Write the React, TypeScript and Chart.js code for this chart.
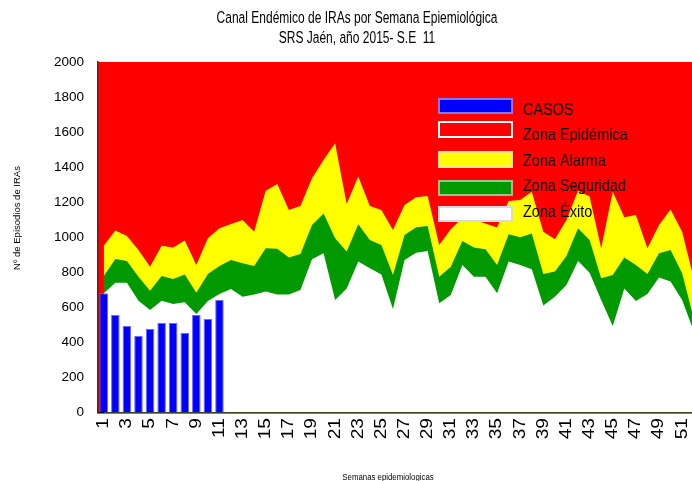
import React, { useEffect, useRef } from "react";
import { Chart, registerables } from "chart.js";

Chart.register(...registerables);

// ---------- DATA ----------
const weeks = [
  "1","2","3","4","5","6","7","8","9","10","11","12","13","14","15","16","17","18","19","20",
  "21","22","23","24","25","26","27","28","29","30","31","32","33","34","35","36","37","38","39","40",
  "41","42","43","44","45","46","47","48","49","50","51","52",
];

// Casos observados (semanas 1 a 11)
const casos = [680, 556, 494, 438, 476, 511, 511, 454, 556, 534, 642];

// Límite superior de Zona Alarma (inicio Zona Epidémica)
const limiteAlarma = [
  952, 1038, 1007, 927, 832, 952, 941, 982, 842, 994,
  1051, 1076, 1098, 1032, 1266, 1304, 1156, 1178, 1336, 1441,
  1536, 1190, 1346, 1178, 1156, 1041, 1184, 1228, 1235, 956,
  1045, 1110, 1100, 1079, 1055, 1207, 1213, 1260, 1032, 988,
  1098, 1266, 1232, 937, 1260, 1114, 1127, 937, 1070, 1159,
  1032, 766,
];

// Límite superior de Zona Seguridad
const limiteSeguridad = [
  779, 876, 864, 775, 695, 779, 762, 787, 684, 790,
  836, 870, 851, 836, 937, 935, 884, 904, 1070, 1136,
  994, 918, 1074, 984, 956, 785, 1013, 1057, 1064, 775,
  832, 979, 942, 931, 842, 1017, 1000, 1022, 790, 804,
  893, 1051, 984, 766, 785, 884, 842, 790, 908, 927,
  794, 537,
];

// Límite superior de Zona Éxito
const limiteExito = [
  680, 741, 741, 638, 585, 638, 619, 629, 562, 636,
  676, 705, 661, 674, 691, 674, 674, 699, 874, 908,
  642, 707, 861, 823, 788, 591, 870, 912, 922, 623,
  670, 842, 775, 775, 680, 861, 842, 817, 610, 661,
  727, 864, 798, 642, 494, 707, 636, 676, 771, 747,
  642, 463,
];

const yTicksMax = 2000;
const yTicksStep = 200;

const titleLines = [
  "Canal Endémico de IRAs por Semana Epiemiológica",
  "SRS Jaén, año 2015- S.E  11",
];
const yAxisTitle = "Nº de Episodios de IRAs";
const xAxisTitle = "Semanas epidemiologicas";

const legendLabels = ["CASOS", "Zona Epidémica", "Zona Alarma", "Zona Seguridad", "Zona Éxito"];

// ---------- STYLE ----------
const FONT = "'Liberation Sans', Arial, sans-serif";
const RED = "#FF0000";
const YELLOW = "#FFFF00";
const GREEN = "#009900";
const BLUE = "#0000FF";

const legendStyles = [
  { fill: BLUE, stroke: "#7b7bff", top: 99, h: 14, ty: 111 },
  { fill: RED, stroke: "#FFFFFF", top: 122, h: 15, ty: 135.5 },
  { fill: YELLOW, stroke: "#f3ea8a", top: 152, h: 15, ty: 161.5 },
  { fill: GREEN, stroke: "#8cc88c", top: 181, h: 14, ty: 186.5 },
  { fill: "#FFFFFF", stroke: "#d8d8e0", top: 207, h: 14, ty: 212.5 },
];

const decorPlugin = {
  id: "decor",
  beforeDraw(chart: any) {
    const { ctx, chartArea: a } = chart;
    ctx.save();
    ctx.fillStyle = RED;
    ctx.fillRect(a.left, a.top, a.right - a.left, a.bottom - a.top);
    ctx.restore();
  },
  afterDraw(chart: any) {
    const { ctx, chartArea: a } = chart;
    const xs = chart.scales.x;
    ctx.save();
    ctx.fillStyle = "#000";

    // title (condensed)
    ctx.textAlign = "center";
    ctx.textBaseline = "middle";
    ctx.font = `15px ${FONT}`;
    titleLines.forEach((t, i) => {
      ctx.save();
      ctx.translate(357, 19 + i * 20);
      ctx.scale(0.8, 1.05);
      ctx.fillText(t, 0, 0);
      ctx.restore();
    });

    // x tick labels (rotated, vertically stretched)
    ctx.font = `16px ${FONT}`;
    ctx.textAlign = "right";
    ctx.textBaseline = "middle";
    weeks.forEach((w, i) => {
      if (i % 2 !== 0) return;
      const x = xs.getPixelForValue(i);
      ctx.save();
      ctx.translate(x, a.bottom + 5.5);
      ctx.rotate(-Math.PI / 2);
      ctx.scale(1.2, 1);
      ctx.fillText(w, 0, 0);
      ctx.restore();
    });

    // y axis title
    ctx.textAlign = "center";
    ctx.save();
    ctx.translate(17, 218);
    ctx.rotate(-Math.PI / 2);
    ctx.font = `9.5px ${FONT}`;
    ctx.fillText(yAxisTitle, 0, 0);
    ctx.restore();

    // x axis title
    ctx.save();
    ctx.translate(388, 477);
    ctx.scale(0.92, 1.1);
    ctx.font = `8.5px ${FONT}`;
    ctx.fillText(xAxisTitle, 0, 0);
    ctx.restore();

    // legend
    ctx.textAlign = "left";
    ctx.font = `14.5px ${FONT}`;
    legendLabels.forEach((lab, i) => {
      const s = legendStyles[i];
      ctx.fillStyle = s.fill;
      ctx.fillRect(439, s.top, 73, s.h);
      ctx.strokeStyle = s.stroke;
      ctx.lineWidth = 2;
      ctx.strokeRect(439, s.top, 73, s.h);
      ctx.fillStyle = "#000";
      ctx.save();
      ctx.translate(523, s.ty);
      ctx.scale(1, 1.08);
      ctx.fillText(lab, 0, 0);
      ctx.restore();
    });
    ctx.restore();
  },
};

export default function App() {
  const ref = useRef<HTMLCanvasElement | null>(null);

  useEffect(() => {
    if (!ref.current) return;
    const areaDs = (label: string, data: number[], color: string, order: number) => ({
      type: "line" as const,
      label,
      data,
      backgroundColor: color,
      borderColor: color,
      borderWidth: 0,
      pointRadius: 0,
      tension: 0,
      fill: "origin",
      order,
    });
    const chart = new Chart(ref.current, {
      type: "bar",
      data: {
        labels: weeks,
        datasets: [
          {
            type: "bar",
            label: "CASOS",
            data: casos,
            backgroundColor: BLUE,
            borderColor: "#6a6aff",
            borderWidth: 1,
            barPercentage: 0.74,
            categoryPercentage: 1,
            order: 0,
          } as any,
          areaDs("Zona Éxito", limiteExito, "#FFFFFF", 1),
          areaDs("Zona Seguridad", limiteSeguridad, GREEN, 2),
          areaDs("Zona Alarma", limiteAlarma, YELLOW, 3),
        ],
      },
      options: {
        responsive: false,
        animation: false,
        devicePixelRatio: 1,
        layout: { padding: { top: 62, right: 20.5, left: 0, bottom: 0 } },
        plugins: {
          legend: { display: false },
          title: { display: false },
          tooltip: { enabled: false },
        },
        scales: {
          x: {
            type: "category",
            offset: true,
            z: 1,
            grid: { display: false, drawTicks: false },
            border: { display: true, color: "#000", width: 1.5 },
            ticks: { display: false },
            afterFit: (s: any) => {
              s.height = 68.5;
            },
          },
          y: {
            min: 0,
            max: yTicksMax,
            z: 1,
            grid: { display: false, drawTicks: false },
            border: { display: true, color: "#333", width: 1.5 },
            ticks: {
              stepSize: yTicksStep,
              padding: 14,
              color: "#000",
              font: { family: FONT, size: 13.5 },
              callback: (v: any) => String(v),
            },
            afterFit: (s: any) => {
              s.width = 98;
            },
          },
        },
      } as any,
      plugins: [decorPlugin],
    });
    return () => chart.destroy();
  }, []);

  return (
    <div
      style={{
        position: "fixed",
        left: 0,
        top: 0,
        width: 692,
        height: 481,
        overflow: "hidden",
        background: "#fff",
      }}
    >
      <canvas ref={ref} width={720} height={481} style={{ display: "block", width: 720, height: 481 }} />
    </div>
  );
}
